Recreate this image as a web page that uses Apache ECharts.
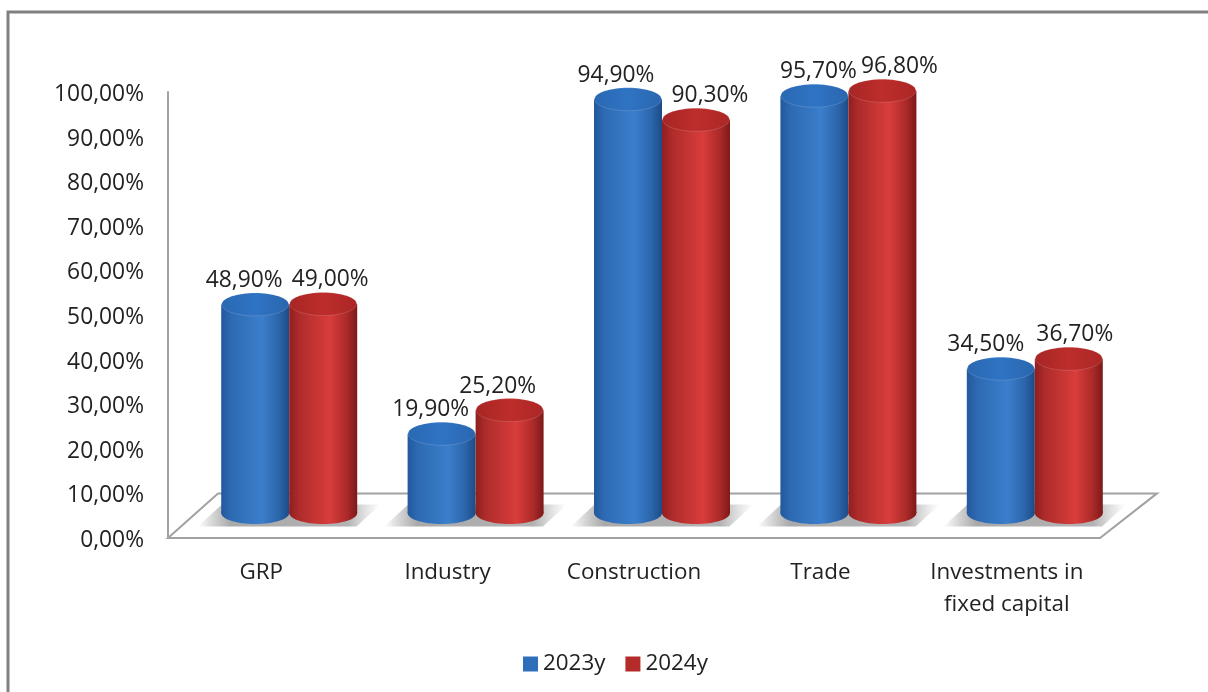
<!DOCTYPE html>
<html><head><meta charset="utf-8">
<style>html,body{margin:0;padding:0;background:#fff}#c{width:1208px;height:692px}</style>
<script src="https://cdn.jsdelivr.net/npm/echarts@6/dist/echarts.min.js"></script>
</head><body><div id="c"></div>
<script>
const categories = ['GRP', 'Industry', 'Construction', 'Trade', 'Investments in\nfixed capital'];
const values2023 = [48.9, 19.9, 94.9, 95.7, 34.5];
const values2024 = [49.0, 25.2, 90.3, 96.8, 36.7];
const seriesNames = ['2023y', '2024y'];
const yTicks = [0,10,20,30,40,50,60,70,80,90,100];

// label nudges (px) – the reference places labels to avoid each other
const nudge2023 = [-11,-11,-12,4,-15];
const nudge2024 = [7,-12,14,17,6];

const FONT = '"Open Sans", sans-serif';
const VALUE_SIZE = 22.8, CAT_SIZE = 22.4;
const grad = (stops) => ({type:'linear',x:0,y:0,x2:1,y2:0,colorStops:stops.map(([o,c])=>({offset:o,color:c}))});
const blueSide = grad([[0,'#23589c'],[0.15,'#2d6ab3'],[0.6,'#3b7ecb'],[0.85,'#2b65ab'],[1,'#1c4b85']]);
const redSide  = grad([[0,'#8f1f1f'],[0.15,'#ae2c2b'],[0.6,'#d83d3b'],[0.85,'#ab2a29'],[1,'#7d1919']]);
const blueTop  = grad([[0,'#2a68b2'],[0.5,'#2f74c4'],[1,'#2a66ae']]);
const redTop   = grad([[0,'#a62625'],[0.5,'#bd2d2b'],[1,'#ab2726']]);
const shadowFill = grad([[0,'rgba(150,150,150,0)'],[0.18,'rgba(160,160,160,0.9)'],[0.82,'rgba(165,165,165,0.85)'],[1,'rgba(190,190,190,0)']]);

const RADIUS_FRAC = 34/186.4, RY = 12, BASE_LIFT = 9.5;
const fmt = v => v.toFixed(2).replace('.',',') + '%';

function cylinder(dir, nudge, sideFill, topFill){
  return function(params, api){
    const i = api.value(0), v = api.value(1);
    const band = api.size([1,0])[0];
    const r = band*RADIUS_FRAC;
    const [cx0, y0] = api.coord([i,0]);
    const [, yTop] = api.coord([i,v]);
    const cx = cx0 + dir*r;
    const yBase = y0 - BASE_LIFT;
    return {type:'group',children:[
      {type:'ellipse',shape:{cx,cy:yBase,rx:r,ry:RY-1},style:{fill:sideFill}},
      {type:'rect',shape:{x:cx-r,y:yTop,width:2*r,height:yBase-yTop},style:{fill:sideFill}},
      {type:'ellipse',shape:{cx,cy:yTop,rx:r-0.5,ry:RY-0.5},style:{fill:topFill,stroke:'rgba(255,255,255,0.14)',lineWidth:1}},
      {type:'text',style:{text:fmt(v),x:cx+nudge[i],y:yTop-24,align:'center',verticalAlign:'middle',
        font:VALUE_SIZE+'px '+FONT,fill:'#222'}}
    ]};
  };
}
function shadowItem(params, api){
  const i = api.value(0);
  const band = api.size([1,0])[0];
  const [cx, y0] = api.coord([i,0]);
  const w = band*0.98, h = 22;
  const yb = y0 + 4, yt = yb - h, slant = 24;
  return {type:'polygon',shape:{points:[[cx-w/2,yb],[cx+w/2-slant,yb],[cx+w/2,yt],[cx-w/2+slant,yt]]},style:{fill:shadowFill}};
}
function floorItem(params, api){
  const s = params.coordSys;
  const l = s.x, r = s.x+s.width, b = s.y+s.height;
  const back = api.coord([0,api.value(0)])[1];
  return {type:'polygon',shape:{points:[[l,b],[r,b],[r+57,back],[l+50,back]]},
    style:{fill:'#fff',stroke:'#a2a2a2',lineWidth:2}};
}

const axisLine = {show:true,lineStyle:{color:'#a2a2a2',width:2}};
const option = {
  backgroundColor:'#fff', animation:false,
  graphic:[{type:'rect',z:-1,shape:{x:8,y:12,width:1400,height:900},style:{fill:'#fff',stroke:'#808080',lineWidth:3}}],
  grid:[
    {left:168,top:92,width:932,height:446},
    {left:196,top:76.5,width:932,height:446}
  ],
  xAxis:[
    {type:'category',gridIndex:0,data:categories,axisTick:{show:false},axisLine,
     axisLabel:{margin:19,lineHeight:32,interval:0,fontFamily:FONT,fontSize:CAT_SIZE,color:'#222'}},
    {type:'category',gridIndex:1,data:categories,show:false}
  ],
  yAxis:[
    {type:'value',gridIndex:0,min:yTicks[0],max:yTicks[yTicks.length-1],interval:10,axisTick:{show:false},axisLine,splitLine:{show:false},
     axisLabel:{margin:24,fontFamily:FONT,fontSize:VALUE_SIZE,color:'#222',formatter:v=>'{a|'+fmt(v)+'}',
       rich:{a:{fontFamily:FONT,fontSize:VALUE_SIZE,color:'#222',padding:[5,0,0,0]}}}},
    {type:'value',gridIndex:1,min:0,max:100,show:false,splitLine:{show:false}}
  ],
  legend:{data:seriesNames,left:523,top:653,padding:0,itemWidth:15,itemHeight:15,itemGap:20,icon:'rect',
    textStyle:{fontFamily:FONT,fontSize:CAT_SIZE,color:'#222'}},
  series:[
    {type:'custom',name:'floor',xAxisIndex:0,yAxisIndex:0,z:1,silent:true,data:[[10]],renderItem:floorItem,clip:false,encode:{x:-1,y:0}},
    {type:'custom',name:'shadow',xAxisIndex:1,yAxisIndex:1,z:2,silent:true,clip:false,
     data:categories.map((_,i)=>[i,0]),renderItem:shadowItem},
    {type:'custom',name:seriesNames[0],xAxisIndex:1,yAxisIndex:1,z:3,clip:false,itemStyle:{color:'#2f6fba'},
     data:values2023.map((v,i)=>[i,v]),renderItem:cylinder(-1,nudge2023,blueSide,blueTop)},
    {type:'custom',name:seriesNames[1],xAxisIndex:1,yAxisIndex:1,z:4,clip:false,itemStyle:{color:'#b52b2b'},
     data:values2024.map((v,i)=>[i,v]),renderItem:cylinder(1,nudge2024,redSide,redTop)}
  ]
};
echarts.init(document.getElementById('c'),null,{renderer:'canvas'}).setOption(option);
</script></body></html>
